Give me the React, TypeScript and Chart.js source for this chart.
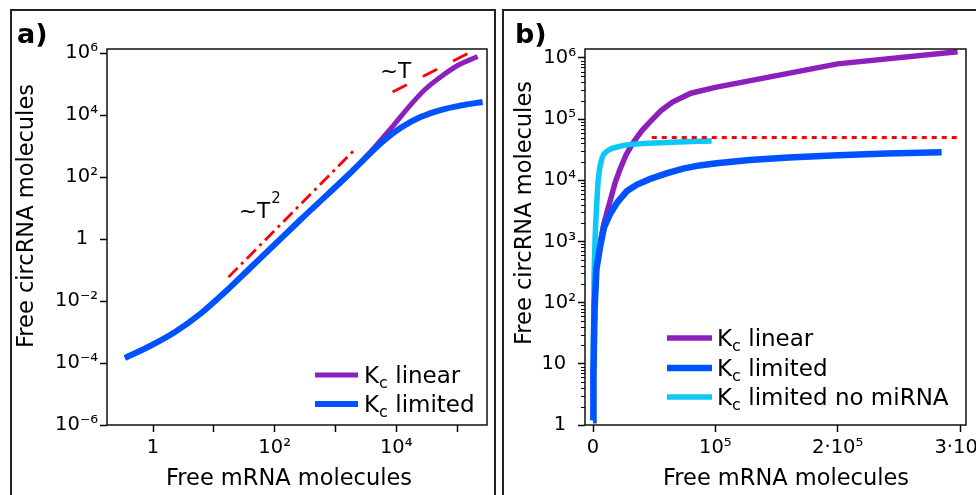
import { useEffect, useRef } from 'react';
import { Chart, registerables } from 'chart.js';

Chart.register(...registerables);

// ---------------- data: panel a (log-log) ----------------
const aLimitedX = [0.346, 0.893, 2.3, 5.95, 15.3, 39.6, 263, 1760, 6150, 11700, 25000, 53500, 114000, 263000];
const aLimitedY = [1.45e-4, 3.53e-4, 1.0e-3, 3.81e-3, 0.0195, 0.116, 4.1, 135, 1450, 3800, 8600, 14500, 20200, 26300];
const aLinearX = [0.346, 0.893, 2.3, 5.95, 15.3, 39.6, 263, 1760, 3760, 8020, 17100, 30300, 53500, 102000, 218000];
const aLinearY = [1.45e-4, 3.53e-4, 1.0e-3, 3.81e-3, 0.0195, 0.116, 4.1, 135, 640, 3530, 21000, 69000, 168000, 395000, 771000];
const aSquareGuideX = [17.4, 2040];
const aSquareGuideY = [0.059, 741];
const aLinearGuideX = [8700, 166000];
const aLinearGuideY = [55000, 1070000];
const aXTicks = [1, 10, 100, 1000, 10000, 100000];
const aXTickLabels = ['1', '', '10²', '', '10⁴', ''];
const aYTicks = [1e-6, 1e-4, 1e-2, 1, 1e2, 1e4, 1e6];
const aYTickLabels = ['10⁻⁶', '10⁻⁴', '10⁻²', '1\u2002', '10²', '10⁴', '10⁶'];
const aLegendNames = ['linear', 'limited'];

// ---------------- data: panel b (lin-log) ----------------
const bLinearX = [100, 350, 1290, 2800, 5700, 9000, 14000, 18000, 22000, 27000, 33000, 40000, 47000, 56000, 65000, 80000, 100000, 200000, 298000];
const bLinearY = [1.2, 6.9, 79, 360, 900, 2000, 4600, 9000, 15000, 26000, 42000, 65000, 92000, 140000, 190000, 265000, 330000, 800000, 1260000];
const bLimitedX = [100, 350, 1290, 2800, 5700, 9000, 13900, 20000, 27800, 36000, 46600, 60000, 73600, 87000, 101000, 128000, 160000, 200000, 240000, 285000];
const bLimitedY = [1.2, 6.9, 79, 355, 800, 1700, 2800, 4400, 6700, 8500, 10500, 13000, 15500, 17500, 19000, 21500, 23500, 25700, 27300, 28800];
const bNoMirX = [100, 300, 900, 1800, 3000, 4200, 5500, 7300, 9000, 11400, 15000, 19600, 26000, 33000, 45000, 60500, 80000, 97000];
const bNoMirY = [3, 24, 300, 1300, 4000, 10000, 16000, 23000, 27000, 30000, 33000, 35000, 37500, 39000, 40500, 41500, 43000, 44000];
const bPlateauX = [48000, 300000];
const bPlateauY = [50000, 50000];
const bXTicks = [0, 100000, 200000, 300000];
const bXTickLabels = ['0', '10⁵', '2·10⁵', '3·10⁵'];
const bYTicks = [1, 10, 100, 1000, 10000, 100000, 1000000];
const bYTickLabels = ['1\u2002', '10\u2002', '10²', '10³', '10⁴', '10⁵', '10⁶'];
const bLegendNames = ['linear', 'limited', 'limited no miRNA'];

const PURPLE = '#8c20bd';
const BLUE = '#0052ff';
const CYAN = '#0cc8f7';
const RED = '#ff0000';
const FONT = 'DejaVu Sans';
const TICK_SIZE = 19.5;
const TITLE_SIZE = 22.5;
const LEGEND_SIZE = 23;

const zip = (xs: number[], ys: number[]) => xs.map((x, i) => ({ x, y: ys[i] }));

function drawKc(ctx: CanvasRenderingContext2D, x: number, y: number, rest: string, size: number) {
  ctx.textAlign = 'left';
  ctx.textBaseline = 'alphabetic';
  ctx.fillStyle = '#000';
  ctx.font = `${size}px "${FONT}"`;
  ctx.fillText('K', x, y);
  const wK = ctx.measureText('K').width;
  ctx.font = `${size * 0.7}px "${FONT}"`;
  ctx.fillText('c', x + wK, y + size * 0.2);
  const wc = ctx.measureText('c').width;
  ctx.font = `${size}px "${FONT}"`;
  ctx.fillText(' ' + rest, x + wK + wc, y);
}

function drawCommon(chart: any, opts: {
  box: [number, number, number, number];
  tag: string; tagX: number;
  yTitleX: number; yTitleY: number; xTitleX: number;
}) {
  const { ctx, chartArea: ca } = chart;
  ctx.save();
  ctx.strokeStyle = '#111';
  ctx.lineWidth = 1.5;
  ctx.strokeRect(ca.left, ca.top, ca.right - ca.left, ca.bottom - ca.top);
  ctx.strokeStyle = '#222';
  ctx.lineWidth = 2;
  const [bx, by, bw, bh] = opts.box;
  ctx.strokeRect(bx, by, bw, bh);
  ctx.fillStyle = '#000';
  ctx.font = `bold 27px "${FONT}"`;
  ctx.textAlign = 'left';
  ctx.textBaseline = 'alphabetic';
  ctx.fillText(opts.tag, opts.tagX, 43);
  ctx.font = `${TITLE_SIZE}px "${FONT}"`;
  ctx.textAlign = 'center';
  ctx.fillText('Free mRNA molecules', opts.xTitleX, 485);
  ctx.save();
  ctx.translate(opts.yTitleX, opts.yTitleY);
  ctx.rotate(-Math.PI / 2);
  ctx.fillText('Free circRNA molecules', 0, 0);
  ctx.restore();
  ctx.restore();
}

const panelAPlugin = {
  id: 'panelA',
  afterDraw(chart: any) {
    drawCommon(chart, { box: [11, 10, 484, 520], tag: 'a)', tagX: 17, yTitleX: 33, yTitleY: 216, xTitleX: 289 });
    const ctx: CanvasRenderingContext2D = chart.ctx;
    ctx.save();
    // annotations
    ctx.fillStyle = '#000';
    ctx.textAlign = 'left';
    ctx.textBaseline = 'alphabetic';
    ctx.font = `21.5px "${FONT}"`;
    ctx.fillText('~T', 239, 218);
    const w = ctx.measureText('~T').width;
    ctx.font = `15px "${FONT}"`;
    ctx.fillText('2', 239 + w + 1, 203);
    ctx.font = `21.5px "${FONT}"`;
    ctx.fillText('~T', 380, 78);
    // legend
    const colors = [PURPLE, BLUE];
    const widths = [5, 6];
    const rows = [375, 404];
    aLegendNames.forEach((name, i) => {
      ctx.strokeStyle = colors[i];
      ctx.lineWidth = widths[i];
      ctx.beginPath();
      ctx.moveTo(315, rows[i]);
      ctx.lineTo(358, rows[i]);
      ctx.stroke();
      drawKc(ctx, 364, rows[i] + 8, name, LEGEND_SIZE);
    });
    ctx.restore();
  },
};

const panelBPlugin = {
  id: 'panelB',
  afterDraw(chart: any) {
    const ctx: CanvasRenderingContext2D = chart.ctx;
    const ys = chart.scales.y;
    const ca = chart.chartArea;
    ctx.save();
    // minor log ticks
    ctx.strokeStyle = '#000';
    ctx.lineWidth = 1;
    for (let k = 0; k < 6; k++) {
      for (let m = 2; m < 10; m++) {
        const v = m * Math.pow(10, k);
        if (v > ys.max) continue;
        const py = Math.round(ys.getPixelForValue(v)) + 0.5;
        ctx.beginPath();
        ctx.moveTo(ca.left - 4, py);
        ctx.lineTo(ca.left, py);
        ctx.stroke();
      }
    }
    ctx.restore();
    drawCommon(chart, { box: [503, 10, 520, 520], tag: 'b)', tagX: 515, yTitleX: 531, yTitleY: 213, xTitleX: 786 });
    ctx.save();
    const colors = [PURPLE, BLUE, CYAN];
    const widths = [5.5, 6.5, 5.5];
    const rows = [338, 368, 397];
    bLegendNames.forEach((name, i) => {
      ctx.strokeStyle = colors[i];
      ctx.lineWidth = widths[i];
      ctx.beginPath();
      ctx.moveTo(667, rows[i]);
      ctx.lineTo(712, rows[i]);
      ctx.stroke();
      drawKc(ctx, 717, rows[i] + 8, name, LEGEND_SIZE);
    });
    ctx.restore();
  },
};

const tickFont = { family: FONT, size: TICK_SIZE };
const gridOpts = { display: true, drawOnChartArea: false, drawTicks: true, tickLength: 7, tickWidth: 1.5, tickColor: '#000' };

function makeAxis(type: string, min: number, max: number, ticks: number[], labels: string[], horizontal: boolean, size: number) {
  return {
    type,
    min,
    max,
    afterBuildTicks: (s: any) => { s.ticks = ticks.map((v) => ({ value: v })); },
    afterFit: (s: any) => {
      if (horizontal) s.height = size; else s.width = size;
      s.paddingLeft = 0; s.paddingRight = 0; s.paddingTop = 0; s.paddingBottom = 0;
    },
    ticks: {
      callback: (_v: any, i: number) => labels[i],
      font: tickFont,
      color: '#000',
      padding: horizontal ? 4 : 2,
      autoSkip: false,
      maxRotation: 0,
      minRotation: 0,
    },
    grid: gridOpts,
    border: { display: false },
  };
}

export default function App() {
  const aRef = useRef<HTMLCanvasElement>(null);
  const bRef = useRef<HTMLCanvasElement>(null);

  useEffect(() => {
    Chart.defaults.font.family = FONT;
    const common = {
      animation: false as const,
      responsive: false,
      events: [] as any[],
      plugins: { legend: { display: false }, tooltip: { enabled: false } },
      elements: { point: { radius: 0 } },
    };
    const chartA = new Chart(aRef.current as HTMLCanvasElement, {
      type: 'line',
      data: {
        datasets: [
          { data: zip(aLinearX, aLinearY), borderColor: PURPLE, borderWidth: 5, cubicInterpolationMode: 'monotone', order: 3 },
          { data: zip(aLimitedX, aLimitedY), borderColor: BLUE, borderWidth: 6, cubicInterpolationMode: 'monotone', order: 2 },
          { data: zip(aSquareGuideX, aSquareGuideY), borderColor: RED, borderWidth: 2.8, borderDash: [13, 5, 3, 5], order: 1 },
          { data: zip(aLinearGuideX, aLinearGuideY), borderColor: RED, borderWidth: 2.8, borderDash: [16, 18], order: 1 },
        ],
      } as any,
      options: {
        ...common,
        layout: { padding: { left: 0, top: 49, right: 489, bottom: 0 } },
        scales: {
          x: makeAxis('logarithmic', 0.175, 311000, aXTicks, aXTickLabels, true, 70),
          y: makeAxis('logarithmic', 1e-6, 1.35e6, aYTicks, aYTickLabels, false, 107),
        },
      } as any,
      plugins: [panelAPlugin],
    });
    const chartB = new Chart(bRef.current as HTMLCanvasElement, {
      type: 'line',
      data: {
        datasets: [
          { data: zip(bLinearX, bLinearY), borderColor: PURPLE, borderWidth: 5.5, tension: 0, order: 4 },
          { data: zip(bNoMirX, bNoMirY), borderColor: CYAN, borderWidth: 5.5, tension: 0, order: 3 },
          { data: zip(bLimitedX, bLimitedY), borderColor: BLUE, borderWidth: 6.5, tension: 0, order: 2 },
          { data: zip(bPlateauX, bPlateauY), borderColor: RED, borderWidth: 3, borderDash: [5, 5], order: 1 },
        ],
      } as any,
      options: {
        ...common,
        layout: { padding: { left: 497, top: 49, right: 10, bottom: 0 } },
        scales: {
          x: makeAxis('linear', -6540, 304900, bXTicks, bXTickLabels, true, 70),
          y: makeAxis('logarithmic', 1, 1.4e6, bYTicks, bYTickLabels, false, 88),
        },
      } as any,
      plugins: [panelBPlugin],
    });
    return () => {
      chartA.destroy();
      chartB.destroy();
    };
  }, []);

  return (
    <div style={{ position: 'absolute', left: 0, top: 0, width: 976, height: 495, background: '#fff', overflow: 'hidden' }}>
      <canvas ref={aRef} width={976} height={495} style={{ position: 'absolute', left: 0, top: 0, width: 976, height: 495 }} />
      <canvas ref={bRef} width={976} height={495} style={{ position: 'absolute', left: 0, top: 0, width: 976, height: 495 }} />
    </div>
  );
}
